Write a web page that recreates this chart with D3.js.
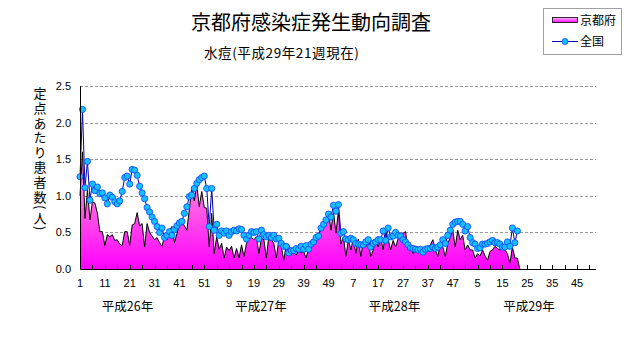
<!DOCTYPE html>
<html><head><meta charset="utf-8">
<script src="https://cdn.jsdelivr.net/npm/d3@7"></script>
<style>body{margin:0;background:#fff}svg{display:block}</style>
</head><body>
<svg id="c" width="631" height="347"></svg>
<script>
// 京都府 (定点あたり患者数), 平成26年第1週 〜 平成29年第21週
const kyoto = [
1.00,1.60,0.69,1.08,0.67,0.92,0.90,0.76,0.51,0.51,
0.32,0.47,0.44,0.47,0.39,0.40,0.34,0.32,0.51,0.51,
0.32,0.60,0.62,0.77,0.59,0.62,0.30,0.62,0.50,0.45,
0.40,0.43,0.36,0.31,0.44,0.40,0.53,0.58,0.36,0.48,
0.61,0.65,0.59,0.53,0.81,1.12,0.93,1.15,0.85,1.06,
0.84,0.83,0.30,0.76,0.21,0.44,0.27,0.35,0.15,0.30,
0.25,0.31,0.15,0.28,0.15,0.33,0.17,0.35,0.42,0.43,
0.40,0.44,0.21,0.42,0.40,0.15,0.46,0.40,0.35,0.15,
0.40,0.31,0.12,0.33,0.33,0.26,0.22,0.19,0.26,0.22,
0.24,0.15,0.28,0.30,0.35,0.37,0.49,0.53,0.58,0.65,
0.78,0.53,0.78,0.49,0.80,0.34,0.44,0.17,0.40,0.26,
0.42,0.21,0.41,0.17,0.37,0.30,0.40,0.17,0.26,0.38,
0.30,0.43,0.26,0.51,0.41,0.26,0.39,0.30,0.41,0.46,
0.49,0.51,0.26,0.30,0.21,0.26,0.28,0.24,0.28,0.30,
0.26,0.33,0.40,0.26,0.17,0.35,0.30,0.17,0.35,0.43,
0.53,0.30,0.53,0.40,0.46,0.26,0.33,0.26,0.26,0.15,
0.21,0.18,0.26,0.18,0.12,0.24,0.26,0.31,0.28,0.26,
0.28,0.26,0.21,0.08,0.30,0.15,0.15
];
// 全国
const national = [
1.26,2.18,1.11,1.47,0.94,1.16,1.07,1.12,1.03,1.04,
0.97,0.89,1.01,0.98,0.92,0.89,0.93,1.06,1.25,1.27,
1.16,1.36,1.35,1.28,1.13,1.04,0.96,0.84,0.78,0.71,
0.65,0.58,0.50,0.56,0.43,0.46,0.51,0.46,0.54,0.59,
0.63,0.65,0.76,0.85,0.99,1.01,1.10,1.17,1.22,1.25,
1.27,1.10,0.58,1.10,0.53,0.61,0.46,0.52,0.49,0.52,
0.46,0.51,0.53,0.52,0.55,0.54,0.46,0.41,0.46,0.51,
0.50,0.51,0.41,0.53,0.47,0.44,0.46,0.43,0.46,0.41,
0.42,0.35,0.31,0.31,0.22,0.25,0.25,0.28,0.27,0.31,
0.27,0.32,0.27,0.34,0.37,0.43,0.45,0.56,0.61,0.67,
0.75,0.71,0.87,0.79,0.88,0.49,0.51,0.41,0.40,0.42,
0.40,0.35,0.34,0.33,0.33,0.37,0.40,0.30,0.35,0.37,
0.40,0.40,0.52,0.39,0.56,0.44,0.45,0.50,0.46,0.45,
0.40,0.37,0.33,0.29,0.28,0.27,0.26,0.27,0.23,0.27,
0.28,0.28,0.30,0.28,0.30,0.33,0.40,0.35,0.46,0.53,
0.61,0.64,0.65,0.65,0.61,0.52,0.58,0.43,0.36,0.34,
0.28,0.29,0.34,0.34,0.35,0.37,0.39,0.36,0.36,0.34,
0.30,0.30,0.37,0.31,0.56,0.36,0.52
];
const yearLabels = ["平成26年","平成27年","平成28年","平成29年"];
const weeksPerYear = 52;
const yTickValues = [0, 0.5, 1.0, 1.5, 2.0, 2.5];
const titleText = "京都府感染症発生動向調査";
const subtitleText = "水痘(平成29年21週現在)";
const yLabelText = "定点あたり患者数(人)";
const seriesNames = ["京都府","全国"];

const totalWeeks = weeksPerYear * yearLabels.length;
const JP = "'Noto Sans CJK JP','Noto Sans',sans-serif";
const NUM = "'Liberation Sans',Arial,sans-serif";

const svg = d3.select("#c");
const x = d3.scaleLinear().domain([0, totalWeeks - 1]).range([80, 80 + 2.485 * (totalWeeks - 1)]);
const y = d3.scaleLinear().domain([0, 2.5]).range([269, 86]);
const xRight = 596;

// gradient
const defs = svg.append("defs");
const grad = defs.append("linearGradient").attr("id","pg")
  .attr("gradientUnits","userSpaceOnUse")
  .attr("x1",0).attr("x2",0).attr("y1",y(1.7)).attr("y2",y(0));
grad.append("stop").attr("offset","0").attr("stop-color","#ffb8f2");
grad.append("stop").attr("offset","0.55").attr("stop-color","#ff55e6");
grad.append("stop").attr("offset","1").attr("stop-color","#ff00ff");
const lg = defs.append("linearGradient").attr("id","lg").attr("x1",0).attr("x2",0).attr("y1",0).attr("y2",1);
lg.append("stop").attr("offset","0").attr("stop-color","#ffb8f2");
lg.append("stop").attr("offset","1").attr("stop-color","#ff00ff");

// gridlines
svg.append("g").selectAll("line").data(yTickValues.filter(d => d > 0)).join("line")
  .attr("x1", x(0)).attr("x2", xRight)
  .attr("y1", d => Math.round(y(d)) + 0.5).attr("y2", d => Math.round(y(d)) + 0.5)
  .attr("stroke", "#9a9a9a").attr("stroke-width", 1).attr("stroke-dasharray", "3,2");

// Kyoto area
const kData = kyoto.map((v, i) => [i, v]).concat([[kyoto.length, 0]]);
svg.append("path").datum(kData)
  .attr("d", d3.area().x(d => x(d[0])).y0(y(0)).y1(d => y(d[1])))
  .attr("fill", "url(#pg)");
svg.append("path").datum(kData)
  .attr("d", d3.line().x(d => x(d[0])).y(d => y(d[1])))
  .attr("fill", "none").attr("stroke", "#000").attr("stroke-width", 1);

// National line
const nData = national.map((v, i) => [i, v]);
svg.append("path").datum(nData)
  .attr("d", d3.line().x(d => x(d[0])).y(d => y(d[1])))
  .attr("fill", "none").attr("stroke", "#0000b0").attr("stroke-width", 1);
svg.append("g").selectAll("circle").data(nData).join("circle")
  .attr("cx", d => x(d[0])).attr("cy", d => y(d[1])).attr("r", 3.1)
  .attr("fill", "#14c0ff").attr("stroke", "#1040ff").attr("stroke-width", 0.8);

// axes
const x0 = Math.round(x(0)) + 0.5;
svg.append("line").attr("x1", x0).attr("x2", x0).attr("y1", y(2.5)).attr("y2", y(0) + 0.5)
  .attr("stroke", "#000");
svg.append("line").attr("x1", x0).attr("x2", xRight).attr("y1", Math.round(y(0)) + 0.5).attr("y2", Math.round(y(0)) + 0.5)
  .attr("stroke", "#000");

// x ticks (every 5 weeks, inside)
const tickIdx = d3.range(0, totalWeeks, 5);
svg.append("g").selectAll("line").data(tickIdx).join("line")
  .attr("x1", d => Math.round(x(d)) + 0.5).attr("x2", d => Math.round(x(d)) + 0.5)
  .attr("y1", y(0) - 4).attr("y2", y(0))
  .attr("stroke", "#000");

// x labels (every 10 weeks)
svg.append("g").selectAll("text").data(d3.range(0, totalWeeks, 10)).join("text")
  .attr("x", d => x(d)).attr("y", 287)
  .attr("text-anchor", "middle").attr("font-family", NUM).attr("font-size", 11)
  .text(d => (d % weeksPerYear) + 1);

// year labels
const yearX = [127.5, 261, 394.5, 529];
svg.append("g").selectAll("text").data(yearLabels).join("text")
  .attr("x", (d, i) => yearX[i]).attr("y", 311)
  .attr("text-anchor", "middle").attr("font-family", JP).attr("font-size", 12.5)
  .text(d => d);

// y labels
svg.append("g").selectAll("text").data(yTickValues).join("text")
  .attr("x", 71).attr("y", d => y(d) + 4)
  .attr("text-anchor", "end").attr("font-family", NUM).attr("font-size", 11)
  .text(d => d.toFixed(1));

// y axis title (vertical)
svg.append("text").attr("x", 40).attr("y", 86.5)
  .style("writing-mode", "vertical-rl").style("text-orientation", "mixed")
  .attr("font-family", JP).attr("font-size", 13).attr("letter-spacing", 1.8)
  .text(yLabelText);

// title
svg.append("text").attr("x", 311).attr("y", 30).attr("text-anchor", "middle")
  .attr("font-family", JP).attr("font-size", 20).text(titleText);
svg.append("text").attr("x", 204).attr("y", 58)
  .attr("font-family", JP).attr("font-size", 13.5).attr("letter-spacing", 0.6).text(subtitleText);

// legend
const lgG = svg.append("g");
lgG.append("rect").attr("x", 543.5).attr("y", 8.5).attr("width", 78).attr("height", 46)
  .attr("fill", "#fff").attr("stroke", "#a0a0a0");
lgG.append("rect").attr("x", 552.5).attr("y", 17.5).attr("width", 25).attr("height", 5)
  .attr("fill", "url(#lg)").attr("stroke", "#000").attr("stroke-width", 0.8);
lgG.append("text").attr("x", 580).attr("y", 25).attr("font-family", JP).attr("font-size", 12).text(seriesNames[0]);
lgG.append("line").attr("x1", 552).attr("x2", 578).attr("y1", 41.5).attr("y2", 41.5).attr("stroke", "#0000b0");
lgG.append("circle").attr("cx", 565).attr("cy", 41.5).attr("r", 3)
  .attr("fill", "#14c0ff").attr("stroke", "#1040ff").attr("stroke-width", 0.8);
lgG.append("text").attr("x", 580).attr("y", 46).attr("font-family", JP).attr("font-size", 12).text(seriesNames[1]);
</script>
</body></html>
